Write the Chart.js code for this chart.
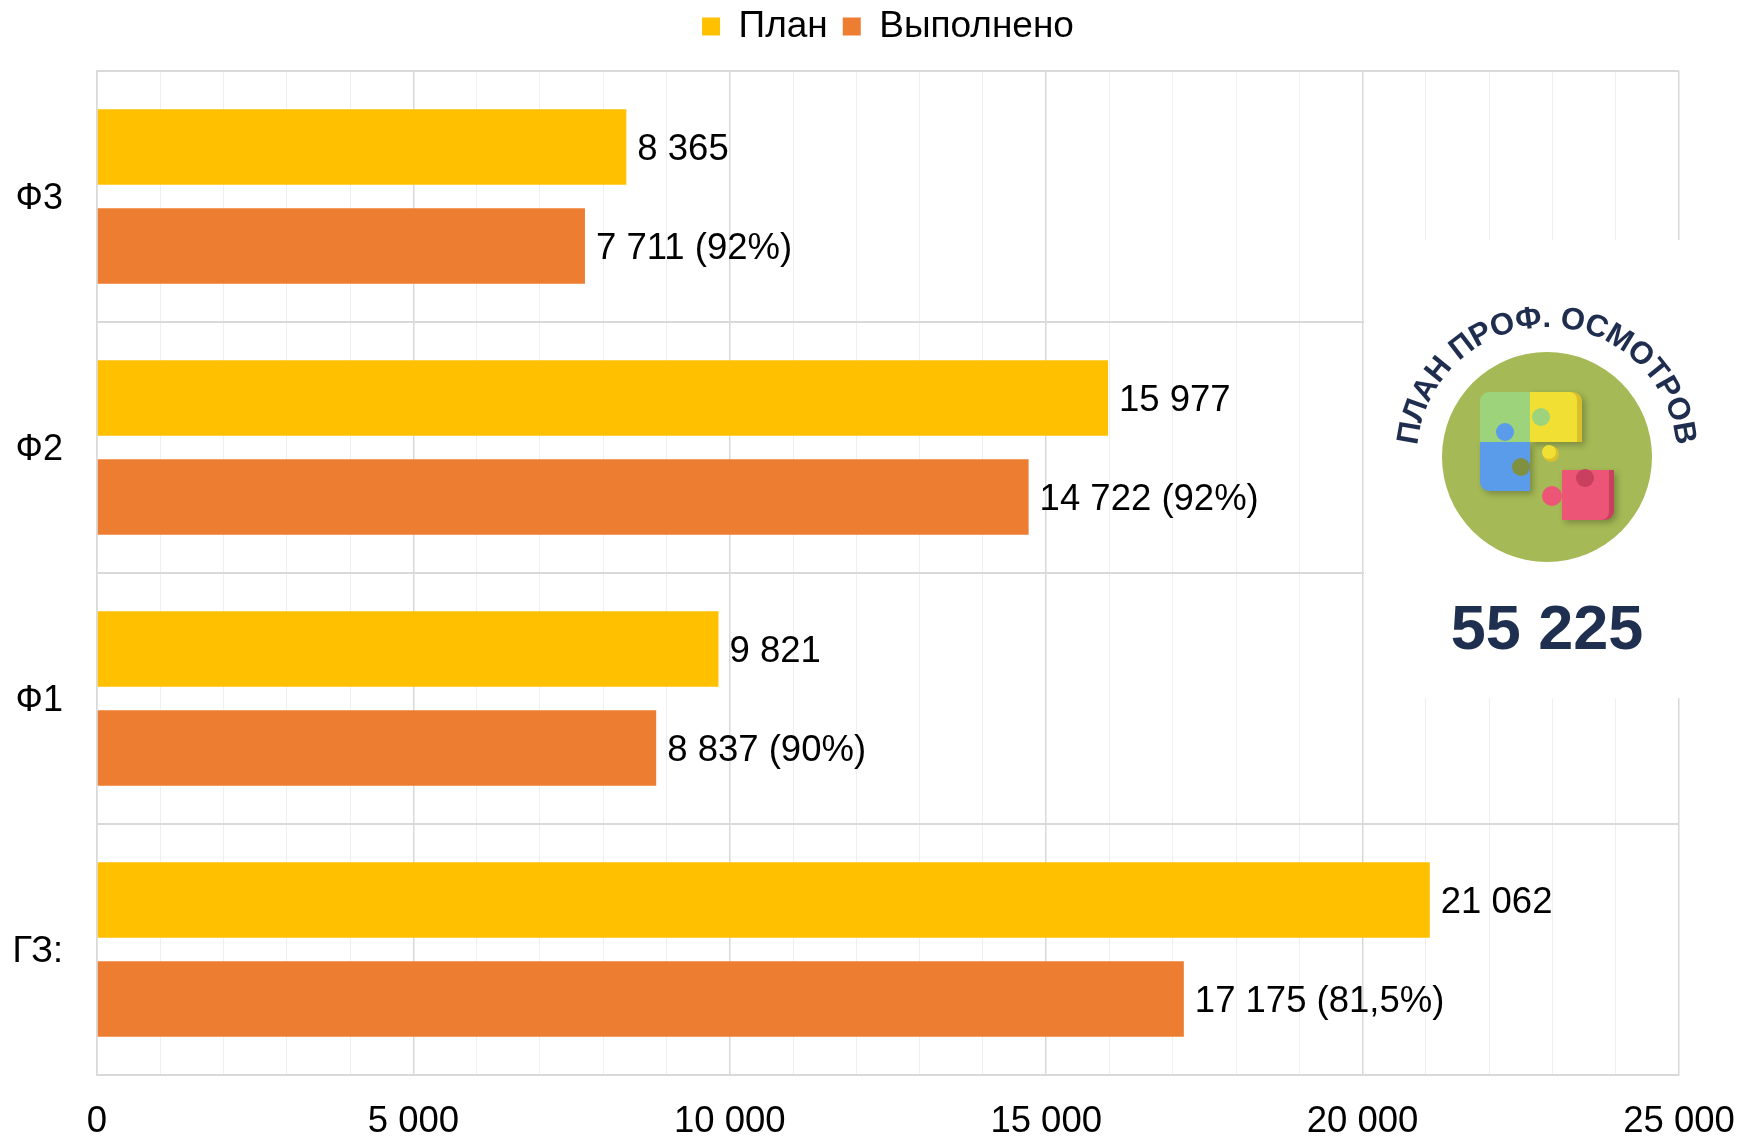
<!DOCTYPE html>
<html>
<head>
<meta charset="utf-8">
<script src="https://cdn.jsdelivr.net/npm/chart.js@4.4.0/dist/chart.umd.min.js"></script>
<style>
  html, body { margin: 0; padding: 0; background: #fff; }
  #wrap { width: 1741px; height: 1137px; }
</style>
</head>
<body>
<div id="wrap"><canvas id="planChart"></canvas></div>
<script>
const categories = ['Ф3', 'Ф2', 'Ф1', 'ГЗ:'];
const planValues = [8365, 15977, 9821, 21062];
const doneValues = [7711, 14722, 8837, 17175];
const donePercents = ['92%', '92%', '90%', '81,5%'];
const xTickLabels = [0, 5000, 10000, 15000, 20000, 25000];
const badgeTitle = 'ПЛАН ПРОФ. ОСМОТРОВ';

const FONT = "'Liberation Sans', Arial, sans-serif";

function fmt(v) {
  return String(v).replace(/\B(?=(\d{3})+(?!\d))/g, ' ');
}

// value labels to the right of each bar
const barLabels = {
  id: 'barLabels',
  afterDatasetsDraw(chart) {
    const ctx = chart.ctx;
    ctx.save();
    ctx.font = '36.5px ' + FONT;
    ctx.fillStyle = '#000';
    ctx.textAlign = 'left';
    ctx.textBaseline = 'middle';
    chart.data.datasets.forEach((ds, i) => {
      chart.getDatasetMeta(i).data.forEach((bar, j) => {
        let txt = fmt(ds.data[j]);
        if (i === 1) txt += ' (' + donePercents[j] + ')';
        ctx.fillText(txt, bar.x + 11, bar.y + 3);
      });
    });
    ctx.restore();
  }
};

// extra room between legend and plot
const legendSpace = {
  id: 'legendSpace',
  beforeInit(chart) {
    const lg = chart.legend;
    if (!lg || lg._patched) return;
    const fit = lg.fit;
    lg.fit = function () { fit.call(this); this.height += 16; };
    lg._patched = true;
  }
};

function arcText(ctx, text, cx, cy, r, mid, span) {
  const chars = [...text];
  const w = chars.map(c => ctx.measureText(c).width);
  const total = w.reduce((a, b) => a + b, 0) - w[0] / 2 - w[w.length - 1] / 2;
  const arcLen = span * r;
  const extra = (arcLen - total) / (chars.length - 1);
  let s = -arcLen / 2;
  chars.forEach((c, i) => {
    const a = mid + s / r;
    ctx.save();
    ctx.translate(cx + r * Math.cos(a), cy + r * Math.sin(a));
    ctx.rotate(a + Math.PI / 2);
    ctx.fillText(c, 0, 0);
    ctx.restore();
    if (i < chars.length - 1) s += w[i] / 2 + extra + w[i + 1] / 2;
  });
}

function rrect(ctx, x, y, w, h, r) {
  ctx.beginPath();
  ctx.roundRect(x, y, w, h, r);
  ctx.fill();
}
function dot(ctx, x, y, r, color) {
  ctx.fillStyle = color;
  ctx.beginPath();
  ctx.arc(x, y, r, 0, Math.PI * 2);
  ctx.fill();
}

// badge with total plan
const badge = {
  id: 'badge',
  afterDraw(chart) {
    const ctx = chart.ctx;
    const cx = 1547, cy = 457;
    ctx.save();
    ctx.fillStyle = '#fff';
    ctx.fillRect(1364, 240, 1741 - 1364, 458);

    dot(ctx, cx, cy, 105, '#A5B956');

    // puzzle
    ctx.shadowColor = 'rgba(0,0,0,0.25)';
    ctx.shadowBlur = 6;
    ctx.shadowOffsetX = 3;
    ctx.shadowOffsetY = 3;
    ctx.fillStyle = '#D8C02C';
    rrect(ctx, 1530, 392, 52, 50, [0, 9, 0, 0]);
    ctx.fillStyle = '#C9405F';
    rrect(ctx, 1562, 470, 52, 50, [0, 0, 9, 0]);
    ctx.fillStyle = '#5A9BEA';
    rrect(ctx, 1480, 442, 50, 49, [0, 0, 0, 9]);
    ctx.shadowColor = 'transparent';
    ctx.fillStyle = '#9DD37B';
    rrect(ctx, 1480, 392, 50, 50, [9, 0, 0, 0]);
    ctx.fillStyle = '#F1DF33';
    rrect(ctx, 1530, 392, 47, 50, [0, 8, 0, 0]);
    ctx.fillStyle = '#EC5576';
    rrect(ctx, 1562, 470, 47, 50, [0, 0, 8, 0]);
    dot(ctx, 1541, 417, 9, '#9DD37B');
    dot(ctx, 1505, 432, 9, '#5A9BEA');
    dot(ctx, 1521, 467, 9, '#7F9040');
    dot(ctx, 1551, 454, 8, '#D8C02C');
    dot(ctx, 1549, 452, 7, '#F1DF33');
    dot(ctx, 1552, 496, 10, '#EC5576');
    dot(ctx, 1585, 478, 9, '#C9405F');

    ctx.fillStyle = '#1F2D4E';
    ctx.font = 'bold 31px ' + FONT;
    ctx.textAlign = 'center';
    ctx.textBaseline = 'alphabetic';
    arcText(ctx, badgeTitle, cx, cy, 130, -Math.PI / 2, 160 * Math.PI / 180);

    const total = planValues.reduce((a, b) => a + b, 0);
    ctx.font = 'bold 63px ' + FONT;
    ctx.textBaseline = 'middle';
    ctx.fillStyle = '#1F2F50';
    ctx.fillText(fmt(total), cx, 632);
    ctx.restore();
  }
};

new Chart(document.getElementById('planChart'), {
  type: 'bar',
  data: {
    labels: categories,
    datasets: [{
      label: 'План',
      data: planValues,
      backgroundColor: '#FFC000',
      categoryPercentage: 0.788,
      barPercentage: 0.764
    }, {
      label: 'Выполнено',
      data: doneValues,
      backgroundColor: '#ED7D31',
      categoryPercentage: 0.788,
      barPercentage: 0.764
    }]
  },
  options: {
    indexAxis: 'y',
    responsive: true,
    maintainAspectRatio: false,
    animation: false,
    layout: { padding: { top: -7, right: 62, left: 0, bottom: 0 } },
    plugins: {
      tooltip: { enabled: false },
      legend: {
        position: 'top',
        fullSize: false,
        labels: {
          boxWidth: 18,
          boxHeight: 18,
          padding: 15,
          color: '#000',
          font: { family: FONT, size: 37 }
        }
      }
    },
    scales: {
      x: {
        min: 0,
        max: 25000,
        ticks: {
          stepSize: 1000,
          autoSkip: false,
          maxRotation: 0,
          padding: 25,
          color: '#000',
          font: { family: FONT, size: 36.5 },
          callback: v => xTickLabels.includes(v) ? fmt(v) : ''
        },
        grid: {
          drawTicks: false,
          color: c => (c.tick && c.tick.value % 5000 === 0) ? '#D9D9D9' : '#EFEFEF',
          lineWidth: c => (c.tick && c.tick.value % 5000 === 0) ? 1.5 : 1
        },
        border: { color: '#D9D9D9', width: 2 },
        afterFit: s => { s.height = 62; s.paddingLeft = 0; s.paddingRight = 0; }
      },
      y: {
        ticks: {
          padding: 34,
          labelOffset: 3,
          color: '#000',
          font: { family: FONT, size: 36 }
        },
        grid: { drawTicks: false, color: '#D9D9D9', lineWidth: 2 },
        border: { color: '#D9D9D9', width: 1.5 },
        afterFit: s => { s.width = 97; }
      }
    }
  },
  plugins: [legendSpace, barLabels, badge]
});
</script>
</body>
</html>
